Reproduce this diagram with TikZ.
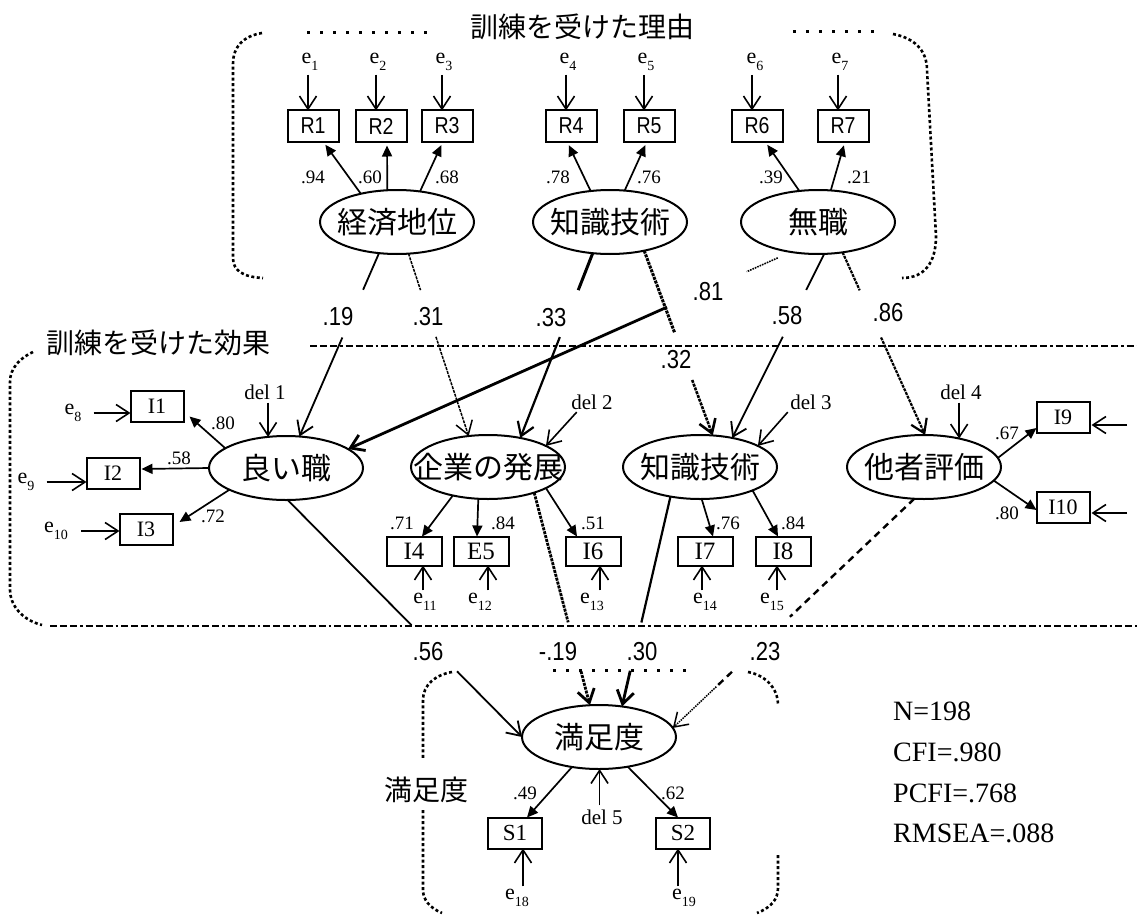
\documentclass[tikz,border=0pt]{standalone}
\usepackage{fontspec}
\setmainfont{Liberation Serif}
\newfontfamily\jpfont{Noto Sans CJK JP}
\newfontfamily\narrowsans[FakeStretch=0.85]{Liberation Sans}
\usetikzlibrary{shapes.geometric,arrows.meta,calc}

% error / residual label: e with a lowered index
\newcommand{\elab}[1]{e\raisebox{-0.3em}{\fontsize{14}{15}\selectfont #1}}

\tikzset{
  latent/.style={ellipse, draw, line width=2pt, minimum width=154pt, minimum height=64pt,
    inner sep=0pt, outer sep=0pt, font=\jpfont\fontsize{30}{34}\selectfont},
  obsR/.style={rectangle, draw, line width=2pt, minimum width=51pt, minimum height=31pt,
    inner sep=0pt, outer sep=0pt, font=\narrowsans\fontsize{23}{25}\selectfont},
  obsI/.style={obsR, minimum width=53pt, font=\fontsize{22}{24}\selectfont},
  obsM/.style={obsR, minimum width=55pt, minimum height=29pt, font=\fontsize{25}{28}\selectfont},
  errlbl/.style={inner sep=1pt, font=\fontsize{22}{24}\selectfont},
  dellbl/.style={inner sep=1pt, font=\fontsize{21}{23}\selectfont},
  loadlbl/.style={inner sep=0pt, font=\fontsize{19}{21}\selectfont},
  coef/.style={inner sep=0pt, font=\narrowsans\fontsize{26}{28}\selectfont},
  grouptitle/.style={inner sep=0pt, font=\jpfont\fontsize{28}{32}\selectfont},
  stat/.style={inner sep=0pt, anchor=base west, font=\fontsize{28}{32}\selectfont},
  err/.style={line width=1.6pt, -{Straight Barb[length=13pt,width=17pt]}},
  load/.style={line width=1.7pt, -{Triangle[length=11pt,width=10pt]}},
  reg/.style={line width=1.8pt},
  regtip/.style={reg, -{Straight Barb[length=13pt,width=17pt]}},
  hatched/.style={dash pattern=on 3pt off 1pt},
  sparsedots/.style={line width=3pt, dash pattern=on 3pt off 10pt},
  densedots/.style={line width=2.6pt, dash pattern=on 3pt off 2.5pt},
  dashdot/.style={line width=2.6pt, dash pattern=on 7pt off 3pt on 7pt off 3pt on 7pt off 3pt on 2.5pt off 3pt},
  brokenline/.style={line width=2.4pt, dash pattern=on 7pt off 5pt},
}

\begin{document}
\begin{tikzpicture}[x=1pt,y=-1pt]
\useasboundingbox (0,0) rectangle (1137,915);

% ---------------- group 1: reasons for training ----------------
\node[grouptitle] (titleA) at (582,27) {訓練を受けた理由};
\draw[sparsedots] (307,33) -- (435,33);
\draw[sparsedots] (793,32) -- (880,32);
\draw[densedots] (262,33) .. controls (244,36) and (233,46) .. (233,64) -- (233,258)
  .. controls (233,270) and (242,277) .. (263,278);
\draw[densedots] (893,34) .. controls (914,38) and (927,50) .. (927,70) -- (936,236)
  .. controls (936,262) and (925,278) .. (902,278);

\node[latent] (econ)  at (397,222) {\makebox[0pt]{経済地位}};
\node[latent] (know1) at (610,222) {\makebox[0pt]{知識技術}};
\node[latent] (unemp) at (818,222) {\makebox[0pt]{無職}};

\node[obsR] (R1) at (313,126) {R1};
\node[obsR] (R2) at (381,126) {R2};
\node[obsR] (R3) at (447,126) {R3};
\node[obsR] (R4) at (571,126) {R4};
\node[obsR] (R5) at (649,126) {R5};
\node[obsR] (R6) at (757,126) {R6};
\node[obsR] (R7) at (843,126) {R7};

\node[errlbl] (e1) at (310,62) {\elab{1}};
\node[errlbl] (e2) at (378,62) {\elab{2}};
\node[errlbl] (e3) at (444,62) {\elab{3}};
\node[errlbl] (e4) at (568,62) {\elab{4}};
\node[errlbl] (e5) at (646,62) {\elab{5}};
\node[errlbl] (e6) at (755,62) {\elab{6}};
\node[errlbl] (e7) at (840,62) {\elab{7}};
\foreach \e/\r in {e1/R1,e2/R2,e3/R3,e4/R4,e5/R5,e6/R6,e7/R7}
  \draw[err, shorten <=3pt] ([xshift=-5pt]\r.north |- \e.south) -- ([xshift=-5pt]\r.north);

\draw[load, shorten >=4pt] (econ.142) -- ([xshift=10pt]R1.south);
\draw[load, shorten >=4pt] (econ.107) -- ([xshift=6pt]R2.south);
\draw[load, shorten >=4pt] (econ.53)  -- ([xshift=-4pt]R3.south);
\draw[load, shorten >=4pt] (know1.122) -- ([xshift=-4pt]R4.south);
\draw[load, shorten >=4pt] (know1.65)  -- ([xshift=-2pt]R5.south);
\draw[load, shorten >=4pt] (unemp.121) -- ([xshift=8pt]R6.south);
\draw[load, shorten >=4pt] (unemp.68)  -- ([xshift=2pt]R7.south);

\node[loadlbl] (l94) at (313,177) {.94};
\node[loadlbl] (l60) at (370,177) {.60};
\node[loadlbl] (l68) at (447,177) {.68};
\node[loadlbl] (l78) at (558,177) {.78};
\node[loadlbl] (l76a) at (649,177) {.76};
\node[loadlbl] (l39) at (771,177) {.39};
\node[loadlbl] (l21) at (859,177) {.21};

% ---------------- group 2: effects of training ----------------
\node[grouptitle] (titleB) at (158,343) {訓練を受けた効果};
\draw[dashdot] (310,346) -- (1137,346);
\draw[dashdot] (50,626) -- (1137,626);
\draw[densedots] (33,352) .. controls (20,358) and (10,368) .. (10,382) -- (10,590)
  .. controls (10,605) and (22,620) .. (42,625);

\node[latent] (good)  at (286,468) {\makebox[0pt]{良い職}};
\node[latent] (firm)  at (488,467) {\makebox[0pt]{企業の発展}};
\node[latent] (know2) at (700,467) {\makebox[0pt]{知識技術}};
\node[latent] (other) at (924,467) {\makebox[0pt]{他者評価}};

\node[obsI] (I1) at (157,406) {I1};
\node[obsI] (I2) at (113,473) {I2};
\node[obsI] (I3) at (146,529) {I3};
\node[obsM] (I4) at (414,551) {I4};
\node[obsM] (E5) at (481,551) {E5};
\node[obsM] (I6) at (593,551) {I6};
\node[obsM] (I7) at (705,551) {I7};
\node[obsM] (I8) at (783,551) {I8};
\node[obsI] (I9) at (1063,417) {I9};
\node[obsI] (I10) at (1063,507) {I10};

\node[errlbl] (e8)  at (73,413) {\elab{8}};
\node[errlbl] (e9)  at (26,482) {\elab{9}};
\node[errlbl] (e10) at (56,531) {\elab{10}};
\draw[err, shorten <=11pt] (e8.east) -- (e8.east -| I1.west);
\draw[err, shorten <=11pt] (e9.east) -- (e9.east -| I2.west);
\draw[err, shorten <=12pt] (e10.east) -- (e10.east -| I3.west);

\node[errlbl] (e11) at (425,602) {\elab{11}};
\node[errlbl] (e12) at (480,602) {\elab{12}};
\node[errlbl] (e13) at (592,602) {\elab{13}};
\node[errlbl] (e14) at (705,602) {\elab{14}};
\node[errlbl] (e15) at (772,602) {\elab{15}};
\draw[err, shorten <=2pt] ([xshift=9pt]I4.south |- e11.north) -- ([xshift=9pt]I4.south);
\draw[err, shorten <=2pt] ([xshift=7pt]E5.south |- e12.north) -- ([xshift=7pt]E5.south);
\draw[err, shorten <=2pt] ([xshift=7pt]I6.south |- e13.north) -- ([xshift=7pt]I6.south);
\draw[err, shorten <=2pt] ([xshift=-3pt]I7.south |- e14.north) -- ([xshift=-3pt]I7.south);
\draw[err, shorten <=2pt] ([xshift=-6pt]I8.south |- e15.north) -- ([xshift=-6pt]I8.south);

\coordinate (e16) at (1127,425);
\coordinate (e17) at (1127,513);
\draw[err, shorten >=2pt] (e16) -- (e16 -| I9.east);
\draw[err, shorten >=2pt] (e17) -- (e17 -| I10.east);

\draw[load] (good.162) -- ([xshift=6pt,yshift=5pt]I1.south east);
\draw[load] (good.180) -- ([xshift=2pt,yshift=4pt]I2.east);
\draw[load] (good.201) -- ([xshift=7pt,yshift=7pt]I3.east);
\draw[load] (firm.219) -- ([xshift=8pt]I4.north);
\draw[load] (firm.253) -- ([xshift=-4pt]E5.north);
\draw[load] (firm.340) -- ([xshift=-16pt]I6.north);
\draw[load] (know2.273) -- ([xshift=8pt]I7.north);
\draw[load] (know2.336) -- ([xshift=-5pt]I8.north);
\draw[load] (other.7) -- ([yshift=-11pt]I9.west);
\draw[load] (other.349) -- ([yshift=-3pt]I10.west);

\node[loadlbl] (l80a) at (223,423) {.80};
\node[loadlbl] (l58a) at (179,458) {.58};
\node[loadlbl] (l72) at (213,516) {.72};
\node[loadlbl] (l71) at (402,523) {.71};
\node[loadlbl] (l84a) at (503,523) {.84};
\node[loadlbl] (l51) at (593,523) {.51};
\node[loadlbl] (l76b) at (728,523) {.76};
\node[loadlbl] (l84b) at (793,523) {.84};
\node[loadlbl] (l67) at (1007,433) {.67};
\node[loadlbl] (l80b) at (1007,513) {.80};

\node[dellbl] (del1) at (265,392) {del 1};
\node[dellbl] (del2) at (592,402) {del 2};
\node[dellbl] (del3) at (811,402) {del 3};
\node[dellbl] (del4) at (961,392) {del 4};
\draw[err, shorten <=2pt] (del1.south -| good.120) -- (good.120);
\draw[err, shorten <=2pt] ([xshift=8pt]del2.south west) -- (firm.20);
\draw[err, shorten <=2pt] (del3.south west) -- (know2.20);
\draw[err, shorten <=2pt] (del4.south -| other.39) -- (other.39);

% ---------------- group 3: satisfaction ----------------
\node[latent] (sat) at (599,737) {\makebox[0pt]{満足度}};
\node[grouptitle] (titleC) at (426,790) {満足度};
\draw[sparsedots] (553,670) -- (690,670);
\draw[densedots] (452,672) .. controls (435,675) and (423,685) .. (423,700) -- (423,758);
\draw[densedots] (423,810) -- (423,890) .. controls (423,900) and (430,908) .. (442,913);
\draw[densedots] (748,672) .. controls (765,675) and (778,688) .. (778,705);
\draw[densedots] (778,855) -- (778,888) .. controls (778,900) and (770,908) .. (757,913);

\node[obsI, minimum width=54pt, font=\fontsize{23}{25}\selectfont] (S1) at (515,833) {S1};
\node[obsI, minimum width=54pt, font=\fontsize{23}{25}\selectfont] (S2) at (683,833) {S2};
\draw[load] (sat.228) -- ([xshift=12pt]S1.north);
\draw[load] (sat.314) -- ([xshift=-5pt]S2.north);
\node[loadlbl] (l49) at (525,793) {.49};
\node[loadlbl] (l62) at (673,793) {.62};

\node[dellbl] (del5) at (602,817) {del 5};
\draw[err, shorten <=3pt] (del5.north -| sat.271) -- (sat.271);

\node[errlbl] (e18) at (517,898) {\elab{18}};
\node[errlbl] (e19) at (684,898) {\elab{19}};
\draw[err, shorten <=2pt] ([xshift=8pt]S1.south |- e18.north) -- ([xshift=8pt]S1.south);
\draw[err, shorten <=2pt] ([xshift=-5pt]S2.south |- e19.north) -- ([xshift=-5pt]S2.south);

% ---------------- structural paths ----------------
% .19
\draw[reg] (econ.240) -- ($(econ.240)!0.2!(good.67)$);
\draw[regtip] ($(econ.240)!0.46!(good.67)$) -- (good.67);
\node[coef] (c19) at (338,317) {.19};
% .31
\draw[reg, line width=1.5pt, hatched] (econ.290) -- ($(econ.290)!0.2!(firm.122)$);
\draw[regtip, line width=1.5pt, hatched] ($(econ.290)!0.456!(firm.122)$) -- (firm.122);
\node[coef] (c31) at (428,317) {.31};
% .33
\draw[reg, line width=3pt] (know1.241) -- ($(know1.241)!0.2!(firm.42)$);
\draw[regtip, line width=2.2pt] ($(know1.241)!0.454!(firm.42)$) -- (firm.42);
\node[coef] (c33) at (551,318) {.33};
% .32
\draw[reg, line width=3pt, hatched] (know1.320) -- ($(know1.320)!0.444!(know2.68)$);
\draw[regtip, line width=2.6pt, hatched] ($(know1.320)!0.70!(know2.68)$) -- (know2.68);
\node[coef] (c32) at (676,360) {.32};
% .81
\draw[line width=1.6pt, densely dotted] ($(unemp.228)!0.03!(good.17)$) -- ($(unemp.228)!0.10!(good.17)$);
\draw[regtip, line width=2.8pt] ($(unemp.228)!0.28!(good.17)$) -- (good.17);
\node[coef] (c81) at (708,292) {.81};
% .58
\draw[reg] (unemp.281) -- ($(unemp.281)!0.196!(know2.42)$);
\draw[regtip] ($(unemp.281)!0.45!(know2.42)$) -- (know2.42);
\node[coef] (c58) at (787,316) {.58};
% .86
\draw[reg, line width=2.2pt, hatched] (unemp.309) -- ($(unemp.309)!0.208!(other.88)$);
\draw[regtip, line width=2.2pt, hatched] ($(unemp.309)!0.466!(other.88)$) -- (other.88);
\node[coef] (c86) at (888,313) {.86};
% .56
\draw[reg] (good.273) -- ($(good.273)!0.528!(sat.180)$);
\draw[regtip] ($(good.273)!0.723!(sat.180)$) -- (sat.180);
\node[coef] (c56) at (428,652) {.56};
% -.19
\draw[reg, line width=2.8pt, hatched] (firm.331) -- ($(firm.331)!0.61!(sat.106)$);
\draw[regtip, line width=2.8pt, hatched] ($(firm.331)!0.84!(sat.106)$) -- (sat.106);
\node[coef] (cm19) at (558,652) {-.19};
% .30
\draw[reg, line width=2.2pt] (know2.225) -- ($(know2.225)!0.6!(sat.53)$);
\draw[regtip, line width=2.8pt] ($(know2.225)!0.83!(sat.53)$) -- (sat.53);
\node[coef] (c30) at (642,652) {.30};
% .23
\draw[brokenline] (other.253) -- ($(other.253)!0.515!(sat.7)$);
\draw[brokenline] ($(other.253)!0.755!(sat.7)$) -- ($(other.253)!0.82!(sat.7)$);
\draw[line width=1.5pt, densely dotted, -{Straight Barb[length=13pt,width=17pt]}]
  ($(other.253)!0.82!(sat.7)$) -- (sat.7);
\node[coef] (c23) at (765,652) {.23};

% ---------------- fit indices ----------------
\node[stat] (fitN) at (893,720) {N=198};
\node[stat] (fitCFI) at (893,761) {CFI=.980};
\node[stat] (fitPCFI) at (893,802) {PCFI=.768};
\node[stat] (fitRMSEA) at (893,842) {RMSEA=.088};

\end{tikzpicture}
\end{document}
